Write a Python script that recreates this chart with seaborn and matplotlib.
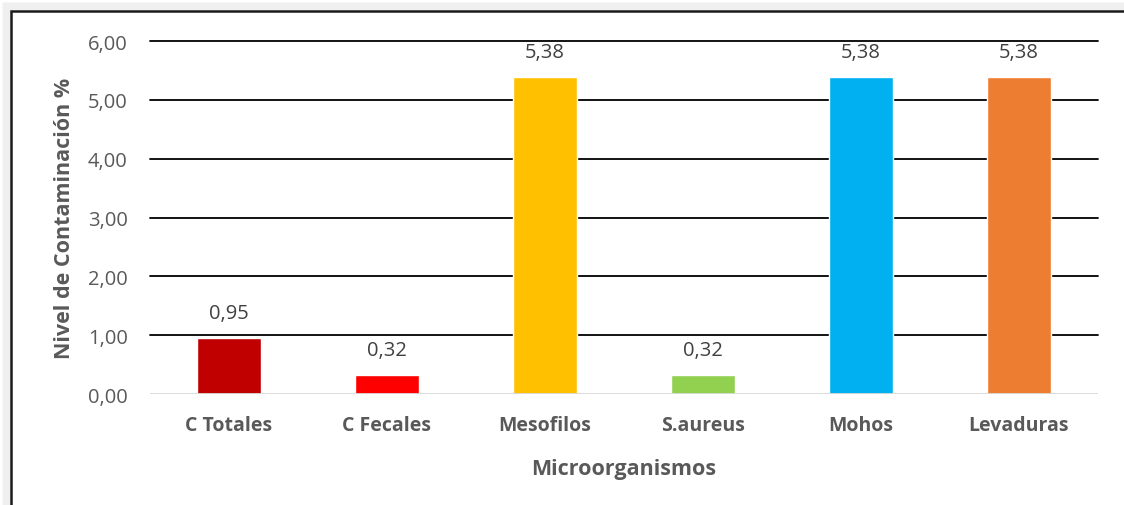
import matplotlib
matplotlib.use("Agg")
import matplotlib.pyplot as plt
import seaborn as sns
import pandas as pd
from matplotlib.patches import Rectangle

categorias = ["C Totales", "C Fecales", "Mesofilos", "S.aureus", "Mohos", "Levaduras"]
valores = [0.95, 0.32, 5.38, 0.32, 5.38, 5.38]
colores = ["#C00000", "#FF0000", "#FFC000", "#92D050", "#00B0F0", "#ED7D31"]
ticks_y = [0, 1, 2, 3, 4, 5, 6]

sns.set_theme(style="white")
plt.rcParams["font.family"] = ["Open Sans", "DejaVu Sans"]

df = pd.DataFrame({"Microorganismo": categorias, "Nivel": valores})

fig = plt.figure(figsize=(11.24, 5.06), dpi=100)
W, H = 1124, 506

# outer chart frame with a soft shadow, drawn behind the axes
for i in range(8, 0, -1):
    fig.patches.append(Rectangle((11 / W - i / W, -0.1), 1.2, (506 - 12 + i) / H + 0.1,
                                 transform=fig.transFigure, facecolor="none",
                                 edgecolor=(0.55, 0.55, 0.55, 0.06), linewidth=1.5, zorder=-10))
fig.patches.append(Rectangle((11 / W, -0.1), 1.2, (506 - 12) / H + 0.1,
                             transform=fig.transFigure, facecolor="white",
                             edgecolor="#1a1a1a", linewidth=1.8, zorder=-5))

ax = fig.add_axes([150 / W, 1 - 395 / H, (1098 - 150) / W, (395 - 42) / H])
ax.set_facecolor("none")
sns.barplot(data=df, x="Microorganismo", y="Nivel", hue="Microorganismo",
            palette=colores, saturation=1, width=0.41, legend=False, ax=ax, zorder=3)

ax.set_xlim(-0.5, len(categorias) - 0.5)
ax.set_ylim(0, 6)
ax.set_yticks(ticks_y)
ax.set_yticklabels([f"{t:.2f}".replace(".", ",") for t in ticks_y])
for t in ticks_y[1:]:
    ax.axhline(t, color="black", linewidth=1.3, zorder=1, clip_on=False)
ax.axhline(0, color="#D9D9D9", linewidth=1.3, zorder=4)

for i, v in enumerate(valores):
    ax.text(i, v + 0.26, f"{v:.2f}".replace(".", ","), ha="center", va="bottom",
            fontsize=14.5, color="#404040")

for s in ax.spines.values():
    s.set_visible(False)
ax.tick_params(axis="both", length=0)
ax.tick_params(axis="y", labelsize=14.5, labelcolor="#595959", pad=16)
ax.tick_params(axis="x", labelsize=14, labelcolor="#595959", pad=15)
for lbl in ax.get_xticklabels():
    lbl.set_fontweight("bold")

ax.set_xlabel("Microorganismos", fontsize=15.5, fontweight="bold", color="#595959", labelpad=17)
ax.set_ylabel("Nivel de Contaminación %", fontsize=15.5, fontweight="bold", color="#595959", labelpad=9)

fig.savefig("out.png", dpi=100)
